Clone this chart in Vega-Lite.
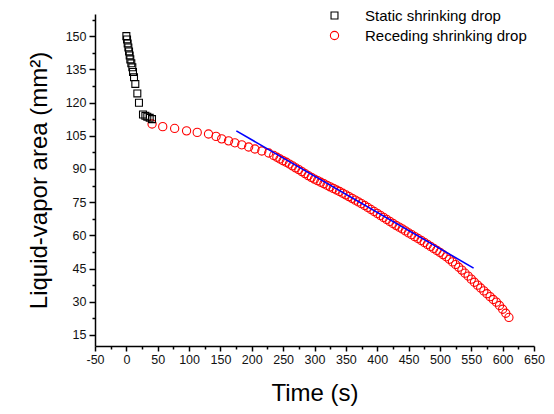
{
  "$schema": "https://vega.github.io/schema/vega-lite/v6.json",
  "autosize": {"type": "none"},
  "width": 439,
  "height": 332,
  "padding": {"left": 95, "top": 14, "right": 20, "bottom": 68},
  "background": "white",
  "config": {
    "view": {"stroke": null},
    "font": "Liberation Sans",
    "axis": {
      "domainColor": "black",
      "domainWidth": 1.5,
      "tickColor": "black",
      "tickWidth": 1.5,
      "labelColor": "#111",
      "labelFont": "Liberation Sans",
      "labelFontSize": 12.5,
      "titleFont": "Liberation Sans",
      "titleFontSize": 24,
      "titleFontWeight": "normal",
      "titleColor": "black",
      "grid": false
    }
  },
  "resolve": {"axis": {"x": "independent", "y": "independent"}},
  "layer": [
    {
      "data": {
        "values": [
          {"series": "Receding shrinking drop", "t": 41, "area": 110.3},
          {"series": "Receding shrinking drop", "t": 58, "area": 109.1},
          {"series": "Receding shrinking drop", "t": 77, "area": 108.3},
          {"series": "Receding shrinking drop", "t": 96, "area": 107.2},
          {"series": "Receding shrinking drop", "t": 113, "area": 106.5},
          {"series": "Receding shrinking drop", "t": 131, "area": 105.8},
          {"series": "Receding shrinking drop", "t": 143, "area": 104.7},
          {"series": "Receding shrinking drop", "t": 152, "area": 103.6},
          {"series": "Receding shrinking drop", "t": 163, "area": 102.7},
          {"series": "Receding shrinking drop", "t": 173, "area": 101.8},
          {"series": "Receding shrinking drop", "t": 184, "area": 100.9},
          {"series": "Receding shrinking drop", "t": 195, "area": 99.9},
          {"series": "Receding shrinking drop", "t": 205, "area": 99.0},
          {"series": "Receding shrinking drop", "t": 216, "area": 98.1},
          {"series": "Receding shrinking drop", "t": 227, "area": 97.2},
          {"series": "Receding shrinking drop", "t": 235, "area": 96.1},
          {"series": "Receding shrinking drop", "t": 240, "area": 95.3},
          {"series": "Receding shrinking drop", "t": 245, "area": 94.5},
          {"series": "Receding shrinking drop", "t": 250, "area": 93.7},
          {"series": "Receding shrinking drop", "t": 255, "area": 93.0},
          {"series": "Receding shrinking drop", "t": 260, "area": 92.2},
          {"series": "Receding shrinking drop", "t": 265, "area": 91.4},
          {"series": "Receding shrinking drop", "t": 270, "area": 90.5},
          {"series": "Receding shrinking drop", "t": 275, "area": 89.7},
          {"series": "Receding shrinking drop", "t": 280, "area": 88.8},
          {"series": "Receding shrinking drop", "t": 285, "area": 87.9},
          {"series": "Receding shrinking drop", "t": 290, "area": 87.0},
          {"series": "Receding shrinking drop", "t": 295, "area": 86.2},
          {"series": "Receding shrinking drop", "t": 300, "area": 85.4},
          {"series": "Receding shrinking drop", "t": 305, "area": 84.7},
          {"series": "Receding shrinking drop", "t": 310, "area": 84.0},
          {"series": "Receding shrinking drop", "t": 315, "area": 83.3},
          {"series": "Receding shrinking drop", "t": 320, "area": 82.6},
          {"series": "Receding shrinking drop", "t": 325, "area": 81.9},
          {"series": "Receding shrinking drop", "t": 330, "area": 81.2},
          {"series": "Receding shrinking drop", "t": 335, "area": 80.5},
          {"series": "Receding shrinking drop", "t": 340, "area": 79.8},
          {"series": "Receding shrinking drop", "t": 345, "area": 79.0},
          {"series": "Receding shrinking drop", "t": 350, "area": 78.3},
          {"series": "Receding shrinking drop", "t": 355, "area": 77.5},
          {"series": "Receding shrinking drop", "t": 360, "area": 76.7},
          {"series": "Receding shrinking drop", "t": 365, "area": 75.9},
          {"series": "Receding shrinking drop", "t": 370, "area": 75.1},
          {"series": "Receding shrinking drop", "t": 375, "area": 74.3},
          {"series": "Receding shrinking drop", "t": 380, "area": 73.5},
          {"series": "Receding shrinking drop", "t": 385, "area": 72.6},
          {"series": "Receding shrinking drop", "t": 390, "area": 71.7},
          {"series": "Receding shrinking drop", "t": 395, "area": 70.8},
          {"series": "Receding shrinking drop", "t": 400, "area": 69.9},
          {"series": "Receding shrinking drop", "t": 405, "area": 69.0},
          {"series": "Receding shrinking drop", "t": 410, "area": 68.1},
          {"series": "Receding shrinking drop", "t": 415, "area": 67.2},
          {"series": "Receding shrinking drop", "t": 420, "area": 66.3},
          {"series": "Receding shrinking drop", "t": 425, "area": 65.4},
          {"series": "Receding shrinking drop", "t": 430, "area": 64.5},
          {"series": "Receding shrinking drop", "t": 435, "area": 63.7},
          {"series": "Receding shrinking drop", "t": 440, "area": 62.9},
          {"series": "Receding shrinking drop", "t": 445, "area": 62.0},
          {"series": "Receding shrinking drop", "t": 450, "area": 61.1},
          {"series": "Receding shrinking drop", "t": 455, "area": 60.3},
          {"series": "Receding shrinking drop", "t": 460, "area": 59.4},
          {"series": "Receding shrinking drop", "t": 465, "area": 58.6},
          {"series": "Receding shrinking drop", "t": 470, "area": 57.7},
          {"series": "Receding shrinking drop", "t": 475, "area": 56.8},
          {"series": "Receding shrinking drop", "t": 480, "area": 55.9},
          {"series": "Receding shrinking drop", "t": 485, "area": 55.0},
          {"series": "Receding shrinking drop", "t": 490, "area": 54.1},
          {"series": "Receding shrinking drop", "t": 495, "area": 53.2},
          {"series": "Receding shrinking drop", "t": 500, "area": 52.3},
          {"series": "Receding shrinking drop", "t": 505, "area": 51.3},
          {"series": "Receding shrinking drop", "t": 510, "area": 50.3},
          {"series": "Receding shrinking drop", "t": 515, "area": 49.2},
          {"series": "Receding shrinking drop", "t": 520, "area": 48.0},
          {"series": "Receding shrinking drop", "t": 525, "area": 46.8},
          {"series": "Receding shrinking drop", "t": 530, "area": 45.6},
          {"series": "Receding shrinking drop", "t": 535, "area": 44.3},
          {"series": "Receding shrinking drop", "t": 540, "area": 42.9},
          {"series": "Receding shrinking drop", "t": 545, "area": 41.6},
          {"series": "Receding shrinking drop", "t": 550, "area": 40.2},
          {"series": "Receding shrinking drop", "t": 555, "area": 38.8},
          {"series": "Receding shrinking drop", "t": 560, "area": 37.5},
          {"series": "Receding shrinking drop", "t": 565, "area": 36.2},
          {"series": "Receding shrinking drop", "t": 570, "area": 34.9},
          {"series": "Receding shrinking drop", "t": 575, "area": 33.6},
          {"series": "Receding shrinking drop", "t": 580, "area": 32.3},
          {"series": "Receding shrinking drop", "t": 585, "area": 31.0},
          {"series": "Receding shrinking drop", "t": 590, "area": 29.8},
          {"series": "Receding shrinking drop", "t": 595, "area": 28.3},
          {"series": "Receding shrinking drop", "t": 600, "area": 26.6},
          {"series": "Receding shrinking drop", "t": 605, "area": 24.8},
          {"series": "Receding shrinking drop", "t": 610, "area": 22.9},
          {"series": "Static shrinking drop", "t": 0, "area": 150.0},
          {"series": "Static shrinking drop", "t": 1.1, "area": 148.5},
          {"series": "Static shrinking drop", "t": 2.1, "area": 146.7},
          {"series": "Static shrinking drop", "t": 3.2, "area": 144.9},
          {"series": "Static shrinking drop", "t": 4.3, "area": 143.1},
          {"series": "Static shrinking drop", "t": 5.3, "area": 141.3},
          {"series": "Static shrinking drop", "t": 6.3, "area": 139.5},
          {"series": "Static shrinking drop", "t": 7.9, "area": 137.7},
          {"series": "Static shrinking drop", "t": 9.5, "area": 135.9},
          {"series": "Static shrinking drop", "t": 10.6, "area": 133.8},
          {"series": "Static shrinking drop", "t": 12.2, "area": 131.4},
          {"series": "Static shrinking drop", "t": 14.3, "area": 128.4},
          {"series": "Static shrinking drop", "t": 17.5, "area": 124.1},
          {"series": "Static shrinking drop", "t": 20.1, "area": 119.9},
          {"series": "Static shrinking drop", "t": 26.5, "area": 114.6},
          {"series": "Static shrinking drop", "t": 30.3, "area": 114.0},
          {"series": "Static shrinking drop", "t": 33.4, "area": 113.6},
          {"series": "Static shrinking drop", "t": 37.2, "area": 113.1},
          {"series": "Static shrinking drop", "t": 40.9, "area": 112.5}
        ]
      },
      "mark": {"type": "point", "filled": false, "strokeWidth": 1.1, "opacity": 1},
      "encoding": {
        "x": {
          "field": "t", "type": "quantitative",
          "scale": {"domain": [-50, 650], "nice": false, "zero": false},
          "axis": {
            "orient": "bottom",
            "title": "Time (s)",
            "titlePadding": 16,
            "values": [-50, 0, 50, 100, 150, 200, 250, 300, 350, 400, 450, 500, 550, 600, 650],
            "labelExpr": "'' + datum.value",
            "tickSize": 5,
            "labelPadding": 2,
            "labelFlush": false,
            "labelOverlap": false
          }
        },
        "y": {
          "field": "area", "type": "quantitative",
          "scale": {"domain": [10, 160], "nice": false, "zero": false},
          "axis": {
            "orient": "left",
            "title": "Liquid-vapor area (mm²)",
            "titlePadding": 14,
            "values": [15, 30, 45, 60, 75, 90, 105, 120, 135, 150],
            "labelExpr": "'' + datum.value",
            "tickSize": 6,
            "labelPadding": 3,
            "labelFlush": false,
            "labelOverlap": false
          }
        },
        "color": {
          "field": "series", "type": "nominal",
          "scale": {"domain": ["Static shrinking drop", "Receding shrinking drop"], "range": ["black", "red"]},
          "legend": {
            "title": null,
            "orient": "none",
            "legendX": 232,
            "legendY": -6,
            "padding": 0,
            "labelFont": "Liberation Sans",
            "labelFontSize": 15,
            "labelColor": "black",
            "labelLimit": 400,
            "labelOffset": 23,
            "rowPadding": 4,
            "symbolSize": 64,
            "symbolStrokeWidth": 1.1
          }
        },
        "shape": {
          "field": "series", "type": "nominal",
          "scale": {"domain": ["Static shrinking drop", "Receding shrinking drop"], "range": ["square", "circle"]}
        },
        "size": {
          "field": "series", "type": "nominal",
          "scale": {"domain": ["Static shrinking drop", "Receding shrinking drop"], "range": [48, 68]},
          "legend": null
        }
      }
    },
    {
      "data": {"values": [{"t": 175.4, "area": 107.2}, {"t": 553.7, "area": 45.2}]},
      "mark": {"type": "line", "color": "#0000ff", "strokeWidth": 1.6},
      "encoding": {
        "x": {
          "field": "t", "type": "quantitative",
          "axis": {
            "orient": "bottom",
            "title": null,
            "labels": false,
            "domain": false,
            "tickSize": 3,
            "values": [-25, 25, 75, 125, 175, 225, 275, 325, 375, 425, 475, 525, 575, 625]
          }
        },
        "y": {
          "field": "area", "type": "quantitative",
          "axis": {
            "orient": "left",
            "title": null,
            "labels": false,
            "domain": false,
            "tickSize": 3,
            "values": [22.5, 37.5, 52.5, 67.5, 82.5, 97.5, 112.5, 127.5, 142.5, 157.5]
          }
        }
      }
    }
  ]
}
